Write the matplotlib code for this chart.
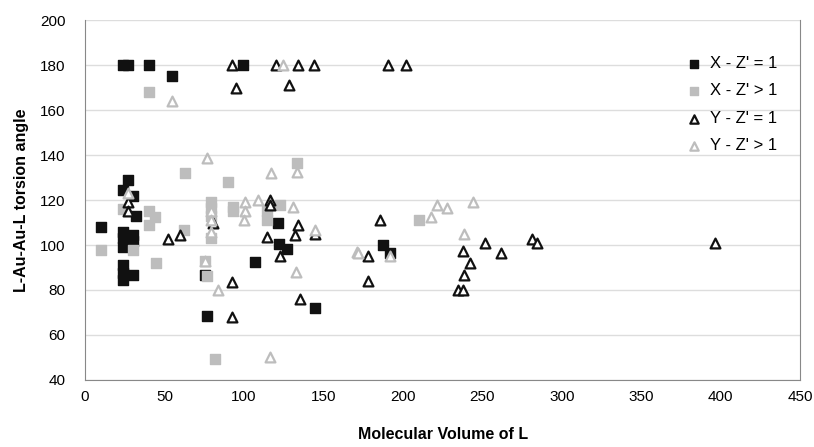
import matplotlib.pyplot as plt

plt.rcParams['font.family'] = ['Liberation Sans', 'DejaVu Sans']

# X - Z' = 1  (black squares)
x_xz1 = [24, 27, 40, 55, 27, 24, 30, 32, 10, 24, 24, 24, 30, 30, 24, 24, 24, 30,
         75.5, 77, 99.4, 121.5, 122, 127, 107, 145, 187.5, 192]
y_xz1 = [180, 180, 180, 175, 129, 124.5, 122, 113, 108, 106, 103, 99, 104.5, 102, 91, 87.6, 84.4, 86.7,
         86.7, 68.4, 180, 110, 100.4, 98.2, 92.4, 72, 100, 96.4]

# X - Z' > 1  (grey squares)
x_xz2 = [40, 63, 24, 40, 44, 40, 10, 30, 62, 45, 79, 79, 79, 79, 77, 82,
         133.4, 90, 93, 93, 114.5, 114.5, 122.7, 75.5, 210]
y_xz2 = [168, 132, 116, 115, 112.5, 109, 97.8, 98, 106.7, 92, 119, 116.4, 113, 103, 86, 49.5,
         136.4, 128, 117, 115, 115, 111, 118, 93, 111]

# Y - Z' = 1  (black open triangles)
x_yz1 = [92.5, 95, 120, 134, 144, 128.5, 190.7, 202, 27, 27, 52, 60, 80.5, 116.4, 116.4,
         134, 132, 114.5, 122.7, 92.5, 135, 92.5, 185.6, 252, 178, 238, 242, 238.5, 235,
         237.8, 178, 262, 281, 284.5, 396.5, 145]
y_yz1 = [180, 170, 180, 180, 180, 171, 180, 180, 119, 115, 102.7, 104.5, 110, 120, 118,
         109, 104.5, 103.5, 95, 83.6, 76, 68, 111, 101, 95, 97.3, 92, 86.7, 80,
         80, 84, 96.4, 102.7, 101, 101, 105]

# Y - Z' > 1  (grey open triangles)
x_yz2 = [124.5, 55, 77, 27, 79, 79, 79, 75.5, 84, 117, 133.4, 100.7, 100.7, 100, 109, 131,
         145, 171, 133, 116.4, 221.5, 227.8, 244, 218, 238.5, 192, 172]
y_yz2 = [180, 164, 138.5, 123, 115, 111, 106, 93, 80, 132, 132.5, 119, 115, 111, 120, 117,
         106.7, 97, 88, 50, 118, 116.4, 119, 112.5, 105, 95, 96.4]

labels = ["X - Z' = 1", "X - Z' > 1", "Y - Z' = 1", "Y - Z' > 1"]

fig = plt.figure(figsize=(8.14, 4.47), dpi=100)
ax = fig.add_axes([0.1044, 0.15, 0.8786, 0.805])

ax.scatter(x_xz1, y_xz1, marker='s', s=55, color='#111111', label=labels[0], zorder=3)
ax.scatter(x_xz2, y_xz2, marker='s', s=55, color='#bdbdbd', label=labels[1], zorder=3)
ax.scatter(x_yz1, y_yz1, marker='^', s=50, facecolor='white', edgecolor='#111111',
           linewidths=1.6, label=labels[2], zorder=4)
ax.scatter(x_yz2, y_yz2, marker='^', s=50, facecolor='white', edgecolor='#bdbdbd',
           linewidths=1.6, label=labels[3], zorder=4)

ax.set_xlim(0, 450)
ax.set_ylim(40, 200)
ax.set_xticks(range(0, 451, 50))
ax.set_yticks(range(40, 201, 20))
ax.yaxis.grid(True, color='#dddddd', linewidth=1)
ax.set_axisbelow(True)
for s in ax.spines.values():
    s.set_color('#888888')
ax.spines['top'].set_visible(False)
ax.tick_params(labelsize=11, length=0)
ax.tick_params(axis='x', pad=7)
ax.tick_params(axis='y', pad=14)

ax.set_xlabel('Molecular Volume of L', fontsize=11.5, fontweight='bold', labelpad=17)
ax.set_ylabel('L-Au-Au-L torsion angle', fontsize=11.5, fontweight='bold', labelpad=8)

ax.legend(loc='upper right', bbox_to_anchor=(0.978, 0.919), frameon=False, fontsize=12,
          handletextpad=0.0, labelspacing=0.75, markerscale=0.85, borderaxespad=0)

fig.savefig('out.png', dpi=100)
